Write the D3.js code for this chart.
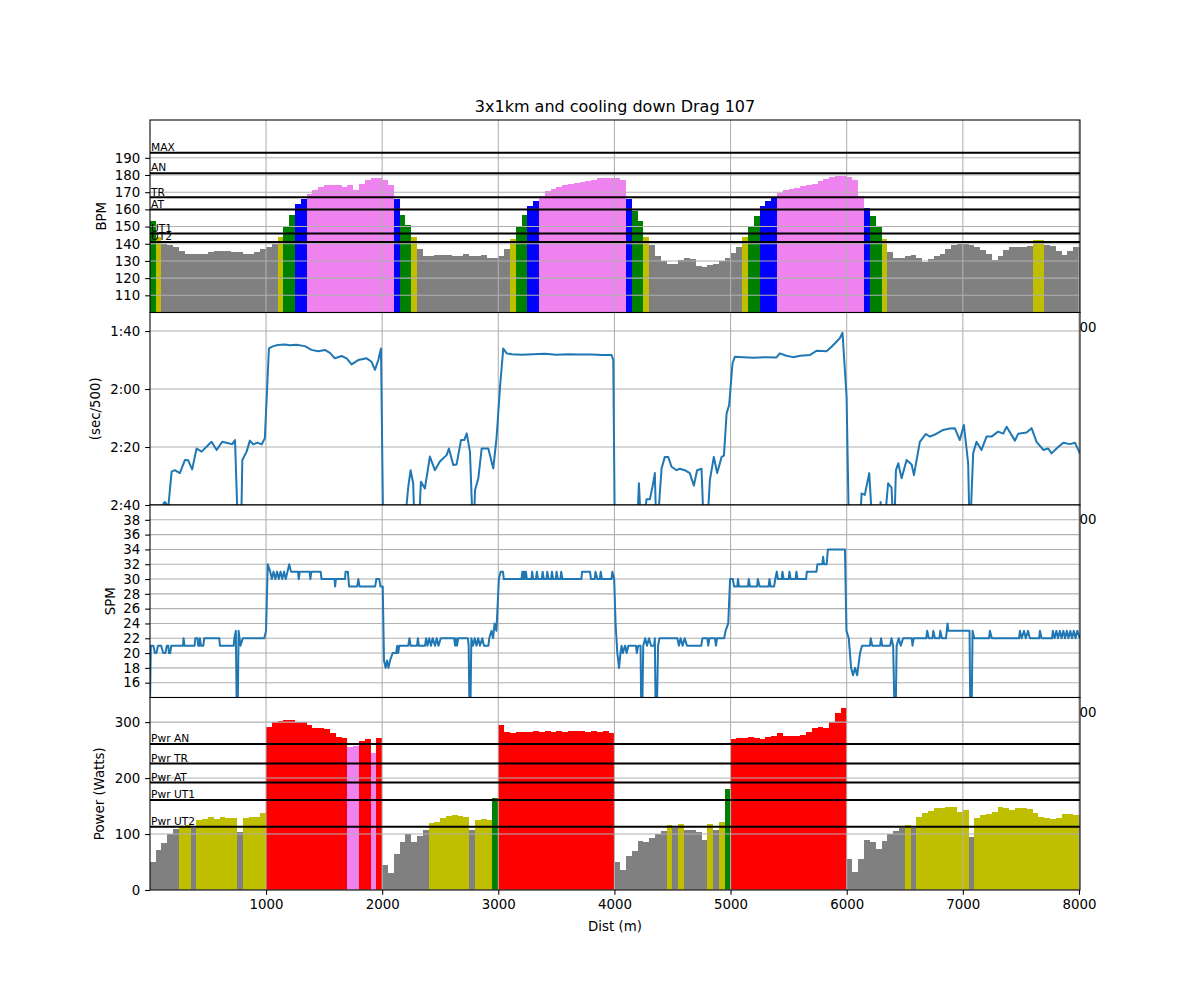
<!DOCTYPE html>
<html><head><meta charset="utf-8">
<script src="https://cdn.jsdelivr.net/npm/d3@7"></script>
<style>body{margin:0;background:#fff}text{font-family:"DejaVu Sans",sans-serif}</style>
</head><body><svg id="c" width="1200" height="1000" xmlns="http://www.w3.org/2000/svg"></svg>
<script>
const title = "3x1km and cooling down Drag 107";
const xLabel = "Dist (m)";
const xTicks = [1000,2000,3000,4000,5000,6000,7000,8000];
const hrTicks = [110,120,130,140,150,160,170,180,190];
const paceTicks = [100,120,140,160];
const paceTickLabels = ["1:40","2:00","2:20","2:40"];
const spmTicks = [16,18,20,22,24,26,28,30,32,34,36,38];
const powerTicks = [0,100,200,300];
const hrZoneNames = ["UT2","UT1","AT","TR","AN","MAX"];
const hrZoneValues = [141,146,160,167,181,193];
const pwrZoneNames = ["Pwr UT2","Pwr UT1","Pwr AT","Pwr TR","Pwr AN"];
const pwrZoneValues = [113,161,192,226,261];
const zoneColors = ["#808080","#bfbf00","#008000","#0000ff","#ee82ee","#ff0000"];

const barDist = [0,50,100,150,200,250,300,350,400,450,500,550,600,650,700,750,800,850,900,950,
1000,1050,1100,1150,1200,1250,1300,1350,1400,1450,1500,1550,1600,1650,1700,1750,1800,1850,1900,1950,
2000,2050,2100,2150,2200,2250,2300,2350,2400,2450,2500,2550,2600,2650,2700,2750,2800,2850,2900,2950,
3000,3050,3100,3150,3200,3250,3300,3350,3400,3450,3500,3550,3600,3650,3700,3750,3800,3850,3900,3950,
4000,4050,4100,4150,4200,4250,4300,4350,4400,4450,4500,4550,4600,4650,4700,4750,4800,4850,4900,4950,
5000,5050,5100,5150,5200,5250,5300,5350,5400,5450,5500,5550,5600,5650,5700,5750,5800,5850,5900,5950,
6000,6050,6100,6150,6200,6250,6300,6350,6400,6450,6500,6550,6600,6650,6700,6750,6800,6850,6900,6950,
7000,7050,7100,7150,7200,7250,7300,7350,7400,7450,7500,7550,7600,7650,7700,7750,7800,7850,7900,7950,8000];

const hr = [153,144,140,139,138,136,134,134,134,134,135,136,136,136,135,135,134,134,135,137,
138,140,144,150,157,163,166,169,171,173,174,174,174,173,174,171,175,177,178,178,
177,174,166,157,151,144,137,133,133,133.5,133.5,133.5,133,133,134,133,133,133.5,132,131.5,
133,137,143,150,157,162,165,168,170.5,172,173,174,175,175.5,176,176.5,177.3,178,178.3,178.3,
178.3,177,166,159,153,144,139,133,130,128.5,128.5,130.5,132,131,127,126.5,127.5,128,130,132,
134.5,138,144,150,156,162,165,166.5,169.5,171,172,172.5,173.5,174,175,176.5,177.5,179,179.5,179.5,
179,177,168,161,156,150,143,135,132,131.5,133,133.3,132,129.5,131,133,134,137,139.5,139.8,
139.8,139,138,136.5,134,130.5,133,136.5,138,138,138,138.5,142,142,139.5,138.5,136,133.5,136,138,138];

const power = [50,72,84,100,109,115,117,110,125,127,130,127,131,129,129,104,128,131,130,138,
292,300,302,303,304,301,300,294,290,289,288,280,274,272,256,257,266,270,245,271,
45,30,65,86,100,85,96,108,119,122,128,133,134,132,130,108,125,126,125,165,
295,283,281,282,283,282,284,283,284,283,284,283,285,284,285,283,285,283,284,280,
50,35,60,70,88,85,93,100,106,117,110,118,108,107,103,90,118,108,121,180,
270,272,271,273,272,270,274,276,280,275,276,276,277,282,290,291,290,300,316,325,
55,32,55,90,86,73,88,100,106,110,116,110,130,138,142,146,147,148,149,140,
143,95,128,134,136,140,148,147,143,146,146,144,137,131,128,127,128,135,136,134,134];

const paceDist = [0,105,118,130,150,158,187,215,258,301,
330,364,402,445,488,531,575,623,675,709,
733,761,784,796,833,861,890,927,962,990,
1025,1063,1102,1160,1205,1260,1335,1392,1449,1507,
1550,1593,1651,1694,1737,1794,1866,1909,1938,1967,
1990,2010,2182,2225,2245,2267,2283,2311,2334,2368,
2411,2454,2497,2555,2575,2612,2641,2679,2707,2728,
2756,2784,2800,2828,2857,2914,2957,2986,3015,3043,
3072,3115,3200,3300,3400,3500,3600,3700,3800,3900,
3976,3990,4004,4191,4211,4234,4277,4305,4328,4348,
4363,4406,4434,4463,4492,4535,4563,4606,4649,4684,
4712,4750,4773,4793,4822,4856,4885,4923,4943,4966,
4988,5017,5037,5109,5200,5300,5396,5424,5480,5539,
5600,5683,5740,5826,5870,5941,5964,5999,6021,6110,
6128,6156,6194,6228,6271,6292,6314,6357,6386,6407,
6424,6444,6473,6516,6559,6579,6630,6682,6716,6770,
6831,6888,6931,6974,7009,7046,7060,7089,7118,7161,
7204,7247,7304,7348,7377,7449,7477,7549,7592,7635,
7693,7735,7764,7807,7865,7922,7965,8008];
const pace = [172,172,159.4,159.0,160.2,161,148.5,148,149,144.5,
144.6,147.7,140.5,141.6,139.9,138.2,141,138.2,138.7,139,
137.6,172,172,144.5,141.6,137.8,139.1,138.5,139.1,137,
106,105.2,104.8,104.6,104.9,104.7,105.2,106.5,107,106.5,
107.5,109.4,108.6,109.4,111.5,110,109.4,110.6,113.4,110,
106,172,172,153.7,148,152.5,172,172,152,154.3,
143.3,148,145,142.8,140.5,146.2,146,137.6,137.6,135.3,
141.6,172,154.8,150.8,140.5,140.5,147.4,136.4,119.2,106,
107.7,108,108.2,108,107.8,108.2,108,108.1,108.1,108.3,
108.3,110,172,172,152.5,172,158,158,153.7,149,
172,147.4,143.4,143.4,146.8,148,147.5,148,149,153.3,
148,147.5,172,172,151.4,143.4,149,143.4,143,128.4,
125.5,111.1,108.9,109,109.2,109,109.1,107.7,108.5,109,
108.5,108.3,106.8,107,105.4,102.5,100.6,122.6,172,172,
156,156.5,149,172,172,159,172,152.5,154,172,
148,145.6,150.8,144.5,146,149.7,138.2,135.5,136.4,135.5,
134.1,133.6,133.5,137.6,132.4,145.6,172,142.2,138.2,141,
136.4,136.4,134.7,135.4,133,137.8,135.4,135,133.5,138.2,
141,140.5,142.2,140.5,138.5,139,138.5,142.2];

const spmDist = [0,8,30,43,56,70,97,115,133,146,
159,164,175,185,285,290,298,385,391,410,
416,425,430,440,460,468,598,603,722,727,
740,748,756,764,780,800,985,1000,1015,1036,
1050,1065,1080,1095,1110,1125,1140,1155,1170,1185,
1200,1215,1275,1282,1290,1375,1382,1390,1470,1478,
1590,1595,1602,1680,1685,1705,1715,1785,1795,1805,
1940,1950,1975,1985,2005,2016,2030,2042,2055,2068,
2090,2120,2130,2138,2148,2225,2235,2245,2300,2308,
2316,2370,2378,2390,2405,2420,2435,2455,2470,2485,
2505,2620,2628,2636,2645,2655,2738,2745,2752,2760,
2768,2782,2797,2812,2827,2842,2862,2877,2915,2922,
2942,2955,2968,2984,3005,3020,3040,3048,3200,3207,
3214,3222,3230,3238,3246,3285,3292,3300,3325,3332,
3342,3375,3382,3392,3415,3422,3432,3455,3462,3472,
3495,3502,3512,3535,3542,3552,3715,3722,3790,3798,
3830,3837,3852,3875,3882,3892,3975,3982,3998,4010,
4025,4040,4052,4062,4072,4092,4105,4120,4185,4193,
4205,4225,4231,4240,4248,4265,4280,4298,4315,4342,
4348,4355,4365,4376,4388,4542,4555,4570,4587,4605,
4625,4748,4758,4800,4808,4818,4866,4874,4884,4945,
4957,4980,4996,5020,5030,5058,5064,5072,5150,5157,
5167,5228,5235,5250,5328,5335,5345,5375,5385,5398,
5408,5440,5447,5457,5500,5507,5517,5560,5567,5577,
5650,5657,5740,5748,5790,5797,5805,5828,5838,5985,
5998,6018,6038,6055,6072,6090,6115,6132,6200,6207,
6220,6288,6296,6306,6375,6386,6400,6412,6422,6430,
6448,6466,6486,6560,6567,6577,6685,6693,6707,6738,
6746,6760,6798,6806,6820,6855,6862,6868,6876,7058,
7064,7076,7084,7098,7226,7233,7250,7484,7492,7507,
7527,7542,7562,7577,7657,7664,7678,7768,7775,7790,
7806,7820,7836,7850,7866,7880,7896,7910,7926,7940,
7956,7970,7986,8008];
const spm = [12,21,21,20,20,21,21,20,20,21,
21,20,20,21,21,22,21,21,22,22,
21,21,22,21,21,22,22,21,21,22,
23,12,12,23,21,22,22,23,32,31,
30,31,30,31,30,31,30,31,30,31,
32,31,31,30,31,31,30,31,31,30,
30,29,30,30,31,31,29,29,30,29,
29,30,30,29,29,19,18,19,18,19,
20,20,21,20,21,21,22,21,21,22,
21,21,22,21,22,21,22,21,22,21,
22,22,21,22,21,22,22,21,12,12,
22,21,22,21,22,21,22,21,21,22,
23,22,24,23,30,31,31,30,30,31,
30,31,30,31,30,30,31,30,30,31,
30,30,31,30,30,31,30,30,31,30,
30,31,30,30,31,30,30,31,31,30,
30,31,30,30,31,30,30,31,30,24,
20,18,20,21,20,21,20,21,21,20,
21,21,12,12,21,22,21,22,21,21,
22,12,12,21,22,22,21,22,21,22,
21,21,22,22,21,22,22,21,22,22,
23,24,30,30,29,29,30,29,29,30,
29,29,30,29,29,30,29,29,30,31,
30,30,31,30,30,31,30,30,31,30,
30,31,31,32,32,33,32,32,34,34,
23,22,18,17,18,17,20,21,21,22,
21,21,22,21,21,22,21,12,12,21,
22,21,22,22,21,22,22,23,22,22,
23,22,22,23,22,22,23,24,23,23,
12,12,23,22,22,23,22,22,23,22,
23,22,23,22,22,23,22,22,23,22,
23,22,23,22,23,22,23,22,23,22,
23,22,23,22];

const svg = d3.select("#c");
const FONT = "13.33px";
const L = 150, R = 1080;
const x = d3.scaleLinear().domain([1, 8009]).range([L, R]);
const defs = svg.append("defs");

function zoneColor(v, thresholds) {
  let k = 0;
  for (let i = 0; i < 5; i++) if (v >= thresholds[i]) k = i + 1;
  return zoneColors[k];
}

function panel(i, top, bottom, yDomain, yTicks, yFmt, ylabel, ylabelX) {
  const y = d3.scaleLinear().domain(yDomain).range([bottom, top]);
  const g = svg.append("g");
  g.append("rect").attr("x", L).attr("y", top).attr("width", R - L).attr("height", bottom - top).attr("fill", "#fff");
  defs.append("clipPath").attr("id", "clip" + i).append("rect")
    .attr("x", L).attr("y", top).attr("width", R - L).attr("height", bottom - top);
  const plot = g.append("g").attr("clip-path", `url(#clip${i})`);
  const bars = plot.append("g").attr("shape-rendering", "crispEdges");
  const grid = plot.append("g");
  const marks = plot.append("g");
  grid.selectAll("line.v").data(xTicks).join("line")
    .attr("x1", d => x(d)).attr("x2", d => x(d)).attr("y1", top).attr("y2", bottom)
    .attr("stroke", "#b0b0b0").attr("stroke-width", 1.07);
  grid.selectAll("line.h").data(yTicks).join("line")
    .attr("x1", L).attr("x2", R).attr("y1", d => y(d)).attr("y2", d => y(d))
    .attr("stroke", "#b0b0b0").attr("stroke-width", 1.07);
  const axes = g.append("g");
  // spines
  axes.append("rect").attr("x", L).attr("y", top).attr("width", R - L).attr("height", bottom - top)
    .attr("fill", "none").attr("stroke", "#000").attr("stroke-width", 1.07);
  const ya = axes.append("g").attr("transform", `translate(${L},0)`)
    .call(d3.axisLeft(y).tickValues(yTicks).tickFormat(yFmt).tickSize(4.86).tickPadding(4.86).tickSizeOuter(0));
  const xa = axes.append("g").attr("transform", `translate(0,${bottom})`)
    .call(d3.axisBottom(x).tickValues(xTicks).tickFormat(d3.format("d")).tickSize(4.86).tickPadding(4.86).tickSizeOuter(0));
  [ya, xa].forEach(a => {
    a.select(".domain").remove();
    a.selectAll("line").attr("stroke", "#000").attr("stroke-width", 1.07);
    a.selectAll("text").attr("font-size", FONT).attr("fill", "#000").attr("font-family", "DejaVu Sans");
  });
  axes.append("text").attr("transform", `translate(${ylabelX},${(top + bottom) / 2}) rotate(-90)`)
    .attr("text-anchor", "middle").attr("font-size", FONT).text(ylabel);
  return {y, bars, marks, axes, top, bottom};
}

function drawBars(p, values, thresholds) {
  const y0 = p.bottom;
  p.bars.selectAll("rect").data(values).join("rect")
    .attr("x", (d, i) => x(barDist[i]))
    .attr("width", (d, i) => {
      const next = i < barDist.length - 1 ? barDist[i + 1] : barDist[i] + (barDist[i] - barDist[i - 1]);
      return x(next) - x(barDist[i]);
    })
    .attr("y", d => p.y(d))
    .attr("height", d => y0 - p.y(d))
    .attr("fill", d => zoneColor(d, thresholds));
}

function drawThresholds(p, names, values) {
  p.marks.selectAll("line.th").data(values).join("line").attr("class", "th")
    .attr("x1", L).attr("x2", R).attr("y1", d => p.y(d)).attr("y2", d => p.y(d))
    .attr("stroke", "#000").attr("stroke-width", 2);
  p.axes.selectAll("text.th").data(values).join("text").attr("class", "th")
    .attr("x", L + 1).attr("y", d => p.y(d) - 1.8)
    .attr("font-size", "10.67px").attr("fill", "#000")
    .text((d, i) => names[i]);
}

function drawLine(p, xs, ys) {
  const pts = xs.map((d, i) => [d, ys[i]]);
  p.marks.append("path").datum(pts)
    .attr("d", d3.line().x(d => x(d[0])).y(d => p.y(d[1])))
    .attr("fill", "none").attr("stroke", "#1f77b4").attr("stroke-width", 2)
    .attr("stroke-linejoin", "round");
}

// Panel 1: heart rate
const p1 = panel(1, 120, 312.5, [100, 212], hrTicks, d3.format("d"), "BPM", 106);
drawBars(p1, hr, hrZoneValues);
drawThresholds(p1, hrZoneNames, hrZoneValues);

// Panel 2: pace
const p2 = panel(2, 312.5, 505, [160, 93.6], paceTicks, (d, i) => paceTickLabels[paceTicks.indexOf(d)], "(sec/500)", 100);
drawLine(p2, paceDist, pace);

// Panel 3: stroke rate
const p3 = panel(3, 505, 697.5, [14, 40], spmTicks, d3.format("d"), "SPM", 115);
drawLine(p3, spmDist, spm);

// Panel 4: power
const p4 = panel(4, 697.5, 890, [0, 344], powerTicks, d3.format("d"), "Power (Watts)", 104);
drawBars(p4, power, pwrZoneValues);
drawThresholds(p4, pwrZoneNames, pwrZoneValues);

svg.append("text").attr("x", 615).attr("y", 931).attr("text-anchor", "middle").attr("font-size", FONT).text(xLabel);
svg.append("text").attr("x", 615).attr("y", 112).attr("text-anchor", "middle").attr("font-size", "16px").text(title);
</script>
</body></html>
